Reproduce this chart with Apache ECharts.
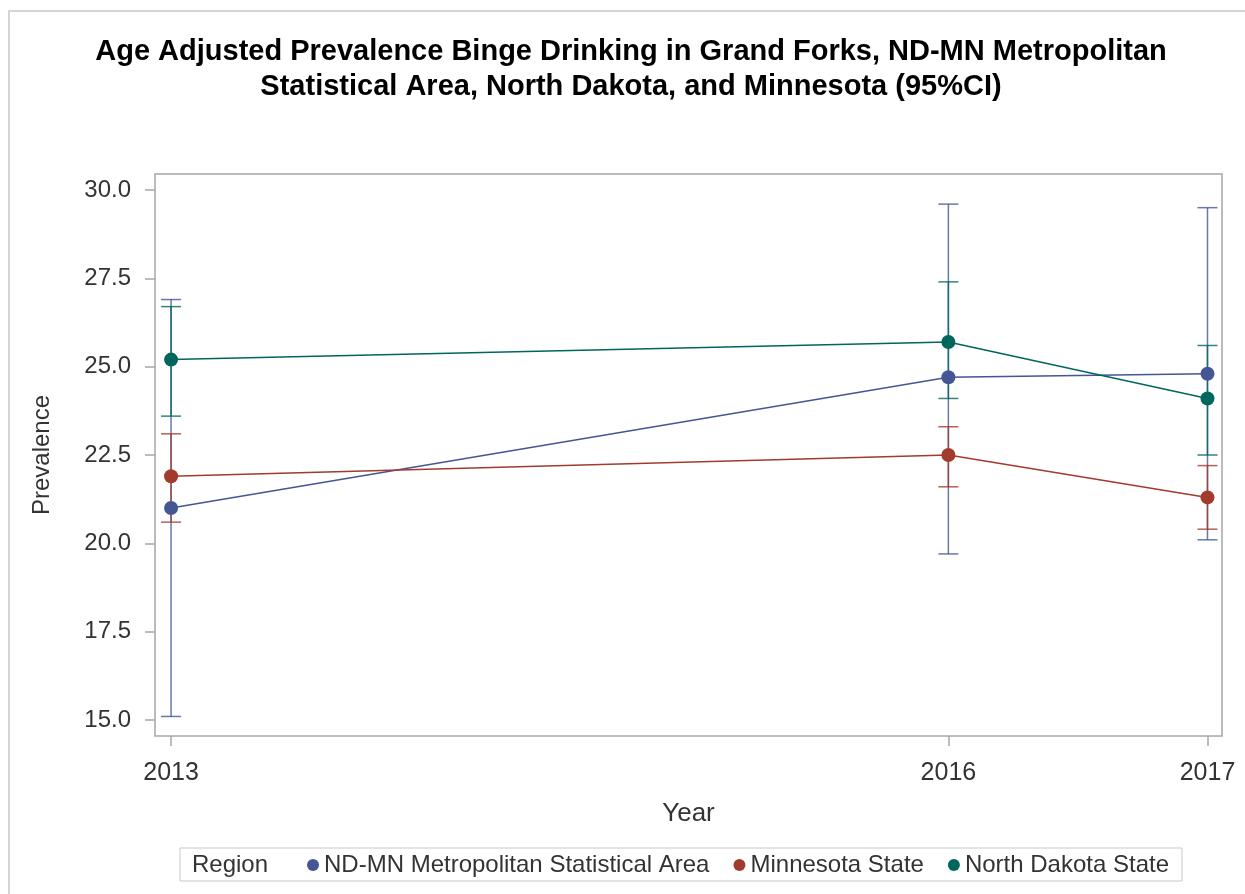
<!DOCTYPE html>
<html>
<head>
<meta charset="utf-8">
<script src="https://cdn.jsdelivr.net/npm/echarts@6/dist/echarts.min.js"></script>
<style>
  html, body { margin: 0; padding: 0; background: #fff; }
  #chart { width: 1245px; height: 894px; }
</style>
</head>
<body>
<div id="chart"></div>
<script>
// Survey years and y-axis tick labels
const years = [2013, 2016, 2017];
const yTicks = [15.0, 17.5, 20.0, 22.5, 25.0, 27.5, 30.0];

// Region names
const regionNames = ['ND-MN Metropolitan Statistical Area', 'Minnesota State', 'North Dakota State'];

// Age adjusted prevalence with 95% confidence limits
const metroMean  = [21.0, 24.7, 24.8];
const metroLower = [15.1, 19.7, 20.1];
const metroUpper = [26.9, 29.6, 29.5];

const mnMean  = [21.9, 22.5, 21.3];
const mnLower = [20.6, 21.6, 20.4];
const mnUpper = [23.1, 23.3, 22.2];

const ndMean  = [25.2, 25.7, 24.1];
const ndLower = [23.6, 24.1, 22.5];
const ndUpper = [26.7, 27.4, 25.6];

const colors = ['#445694', '#A23A2E', '#01665E'];
const FONT = '"Liberation Sans", Arial, sans-serif';

const groups = [
  { name: regionNames[0], mean: metroMean, lower: metroLower, upper: metroUpper, color: colors[0] },
  { name: regionNames[1], mean: mnMean, lower: mnLower, upper: mnUpper, color: colors[1] },
  { name: regionNames[2], mean: ndMean, lower: ndLower, upper: ndUpper, color: colors[2] }
];

// Vertical confidence interval bars with end caps
function errorBarSeries(g) {
  return {
    type: 'custom',
    name: g.name + ' CI',
    data: years.map((y, i) => [y, g.lower[i], g.upper[i]]),
    z: 2,
    renderItem: function (params, api) {
      const x = api.value(0);
      const lo = api.coord([x, api.value(1)]);
      const hi = api.coord([x, api.value(2)]);
      const half = 10;
      const style = { stroke: g.color, lineWidth: 1.5, opacity: 0.8 };
      return {
        type: 'group',
        children: [
          { type: 'line', shape: { x1: hi[0], y1: hi[1], x2: lo[0], y2: lo[1] }, style: style },
          { type: 'line', shape: { x1: hi[0] - half, y1: hi[1], x2: hi[0] + half, y2: hi[1] }, style: style },
          { type: 'line', shape: { x1: lo[0] - half, y1: lo[1], x2: lo[0] + half, y2: lo[1] }, style: style }
        ]
      };
    }
  };
}

// Point estimates joined by lines
function meanSeries(g) {
  return {
    type: 'line',
    name: g.name,
    data: years.map((y, i) => [y, g.mean[i]]),
    color: g.color,
    symbol: 'circle',
    symbolSize: 14,
    showSymbol: true,
    z: 3,
    lineStyle: { width: 1.5, color: g.color },
    itemStyle: { color: g.color },
    emphasis: { disabled: true }
  };
}

const series = [];
groups.forEach(g => series.push(errorBarSeries(g)));
groups.forEach(g => series.push(meanSeries(g)));

const chart = echarts.init(document.getElementById('chart'), null, { renderer: 'canvas' });

chart.setOption({
  animation: false,
  backgroundColor: '#fff',
  textStyle: { fontFamily: FONT },
  graphic: [
    {
      type: 'rect',
      shape: { x: 9, y: 11, width: 1260, height: 920 },
      style: { fill: 'none', stroke: '#d4d4d4', lineWidth: 2 },
      silent: true
    },
    {
      type: 'text',
      x: 631,
      y: 34,
      style: {
        text: 'Age Adjusted Prevalence Binge Drinking in Grand Forks, ND-MN Metropolitan\nStatistical Area, North Dakota, and Minnesota (95%CI)',
        textAlign: 'center',
        font: 'bold 29px ' + FONT,
        lineHeight: 35,
        fill: '#000'
      }
    },
    {
      type: 'text',
      x: 192,
      y: 865,
      style: {
        text: 'Region',
        textVerticalAlign: 'middle',
        font: '24px ' + FONT,
        fill: '#333'
      }
    }
  ],
  legend: {
    data: regionNames,
    left: 180,
    top: 848,
    icon: 'circle',
    itemWidth: 12,
    itemHeight: 12,
    itemGap: 24,
    padding: [5, 13, 4, 127],
    borderColor: '#c8c8c8',
    borderWidth: 1,
    textStyle: { fontSize: 24, color: '#333', fontFamily: FONT },
    selectedMode: false
  },
  grid: {
    left: 155,
    right: 23,
    top: 174,
    bottom: 158,
    show: true,
    borderColor: '#a6a6a6',
    borderWidth: 1.5,
    containLabel: false
  },
  xAxis: {
    type: 'value',
    min: 2012.938,
    max: 2017.056,
    name: 'Year',
    nameLocation: 'middle',
    nameGap: 65,
    nameTextStyle: { fontSize: 26, color: '#333', fontFamily: FONT },
    axisLine: { show: false },
    axisTick: { show: true, length: 10, customValues: years, lineStyle: { color: '#a6a6a6', width: 1.5 } },
    axisLabel: { customValues: years, margin: 25, fontSize: 25, color: '#333', fontFamily: FONT, formatter: v => String(v) },
    splitLine: { show: false }
  },
  yAxis: {
    type: 'value',
    min: 14.547,
    max: 30.453,
    name: 'Prevalence',
    nameLocation: 'middle',
    nameGap: 101,
    nameTextStyle: { fontSize: 24, color: '#333', fontFamily: FONT },
    axisLine: { show: false },
    axisTick: { show: true, length: 10, customValues: yTicks, lineStyle: { color: '#a6a6a6', width: 1.5 } },
    axisLabel: { customValues: yTicks, margin: 24, fontSize: 24, color: '#333', fontFamily: FONT, formatter: v => v.toFixed(1) },
    splitLine: { show: false }
  },
  series: series
});
</script>
</body>
</html>
